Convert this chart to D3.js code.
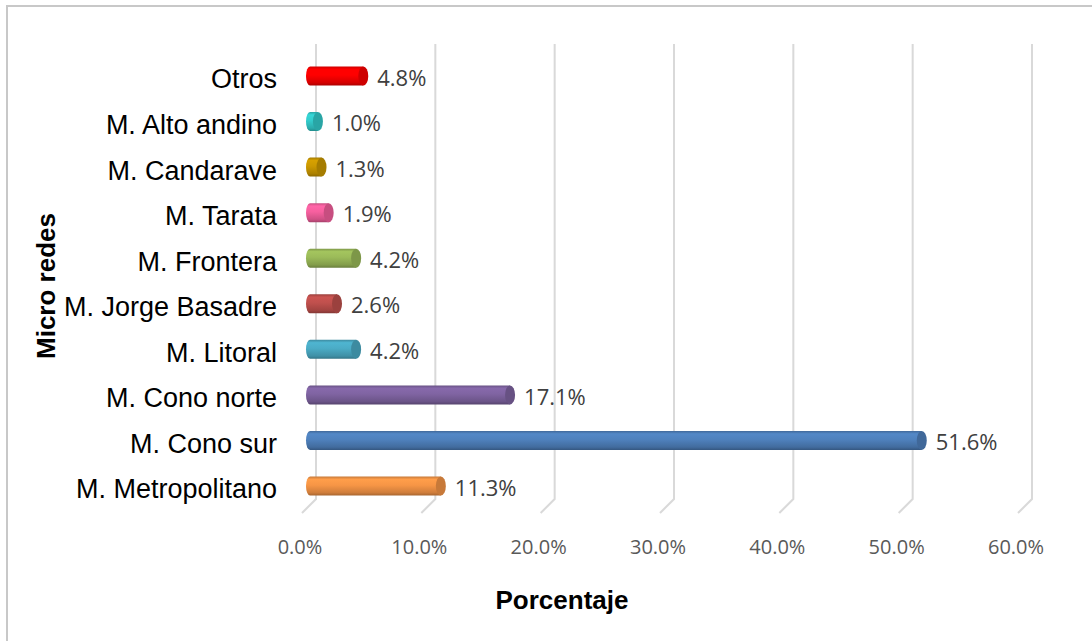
<!DOCTYPE html>
<html>
<head>
<meta charset="utf-8">
<script src="https://cdn.jsdelivr.net/npm/d3@7"></script>
<style>
  body { margin: 0; background: #fff; }
  svg { display: block; }
</style>
</head>
<body>
<div id="chart"></div>
<script>
// data, bottom to top as in the chart
var categories = ["M. Metropolitano", "M. Cono sur", "M. Cono norte", "M. Litoral", "M. Jorge Basadre",
                  "M. Frontera", "M. Tarata", "M. Candarave", "M. Alto andino", "Otros"];
var values = [11.3, 51.6, 17.1, 4.2, 2.6, 4.2, 1.9, 1.3, 1.0, 4.8];
var colors = ["#f79646", "#4f81bd", "#8064a2", "#4bacc6", "#c0504d",
              "#9bbb59", "#f7609f", "#cc9900", "#33cccc", "#ff0000"];
var xTicks = [0, 10, 20, 30, 40, 50, 60];

var W = 1092, H = 641;
var svg = d3.select("#chart").append("svg")
  .attr("width", W).attr("height", H);

// chart border (left and top visible)
svg.append("path")
  .attr("d", "M7,641 L7,6 L1092,6")
  .attr("fill", "none")
  .attr("stroke", "#c8c8c8")
  .attr("stroke-width", 2);

var x = d3.scaleLinear().domain([0, 60]).range([316, 1032]);
var y = d3.scaleBand().domain(categories).range([508.8, 53.2]);

var gridTop = 44, gridBottom = 499, depth = 14;
var front = -10; // bars sit on the front plane
var barH = 19;

// gridlines with 3D floor foot
svg.append("g").selectAll("path")
  .data(xTicks)
  .enter().append("path")
  .attr("d", function(d) {
    return "M" + x(d) + "," + gridTop + " L" + x(d) + "," + gridBottom +
           " L" + (x(d) - depth) + "," + (gridBottom + depth);
  })
  .attr("fill", "none")
  .attr("stroke", "#d9d9d9")
  .attr("stroke-width", 2);

// tick labels
svg.append("g").selectAll("text")
  .data(xTicks)
  .enter().append("text")
  .attr("x", function(d) { return x(d) - 16; })
  .attr("y", 554)
  .attr("text-anchor", "middle")
  .style("font-family", "'Open Sans', sans-serif")
  .style("font-size", "20px")
  .style("fill", "#595959")
  .text(function(d) { return d.toFixed(1) + "%"; });

// gradients per bar
var defs = svg.append("defs");
colors.forEach(function(c, i) {
  var g = defs.append("linearGradient")
    .attr("id", "grad" + i)
    .attr("x1", 0).attr("y1", 0).attr("x2", 0).attr("y2", 1);
  g.append("stop").attr("offset", "0%").attr("stop-color", d3.color(c).darker(0.6));
  g.append("stop").attr("offset", "15%").attr("stop-color", d3.color(c).brighter(0.15));
  g.append("stop").attr("offset", "45%").attr("stop-color", c);
  g.append("stop").attr("offset", "85%").attr("stop-color", d3.color(c).darker(0.5));
  g.append("stop").attr("offset", "100%").attr("stop-color", d3.color(c).darker(1.1));
});

var bars = svg.append("g").selectAll("g")
  .data(categories)
  .enter().append("g");

var capR = 4;
bars.append("path")
  .attr("d", function(d, i) {
    var x0 = x(0) + front, x1 = x(values[i]) + front;
    var cy = y(d) + y.bandwidth() / 2, t = cy - barH / 2, b = cy + barH / 2;
    return "M" + (x0 + capR) + "," + t + " L" + x1 + "," + t +
           " L" + x1 + "," + b + " L" + (x0 + capR) + "," + b +
           " A" + capR + "," + (barH / 2) + " 0 0 1 " + (x0 + capR) + "," + t + " Z";
  })
  .attr("fill", function(d, i) { return "url(#grad" + i + ")"; });

// end caps
bars.append("ellipse")
  .attr("cx", function(d, i) { return x(values[i]) + front; })
  .attr("cy", function(d) { return y(d) + y.bandwidth() / 2; })
  .attr("rx", capR + 1)
  .attr("ry", barH / 2)
  .attr("fill", function(d, i) { return d3.color(colors[i]).darker(0.6); });

// value labels
bars.append("text")
  .attr("x", function(d, i) { return x(values[i]) + front + 14; })
  .attr("y", function(d) { return y(d) + y.bandwidth() / 2 + 2; })
  .attr("dy", "0.35em")
  .style("font-family", "'Open Sans', sans-serif")
  .style("font-size", "22px")
  .style("fill", "#404040")
  .text(function(d, i) { return values[i].toFixed(1) + "%"; });

// category labels
svg.append("g").selectAll("text")
  .data(categories)
  .enter().append("text")
  .attr("x", 277)
  .attr("y", function(d) { return y(d) + y.bandwidth() / 2 + 3; })
  .attr("dy", "0.35em")
  .attr("text-anchor", "end")
  .style("font-family", "'Liberation Sans', Arial, sans-serif")
  .style("font-size", "27px")
  .style("fill", "#000")
  .text(function(d) { return d; });

// axis titles
svg.append("text")
  .attr("x", 562).attr("y", 609)
  .attr("text-anchor", "middle")
  .style("font-family", "'Liberation Sans', Arial, sans-serif")
  .style("font-size", "26px")
  .style("font-weight", "bold")
  .text("Porcentaje");

svg.append("text")
  .attr("transform", "translate(55,286) rotate(-90)")
  .attr("text-anchor", "middle")
  .style("font-family", "'Liberation Sans', Arial, sans-serif")
  .style("font-size", "26px")
  .style("font-weight", "bold")
  .text("Micro redes");
</script>
</body>
</html>
